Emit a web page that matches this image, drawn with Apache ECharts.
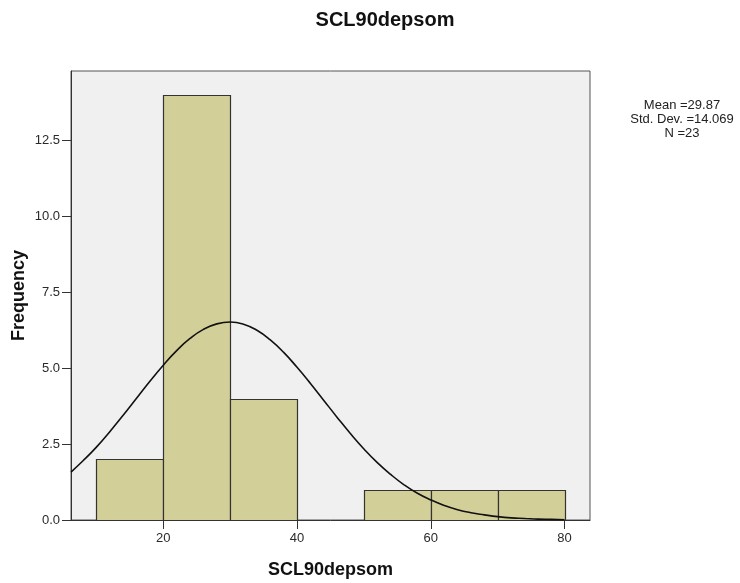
<!DOCTYPE html>
<html>
<head>
<meta charset="utf-8">
<script src="https://cdn.jsdelivr.net/npm/echarts@6/dist/echarts.min.js"></script>
<style>
html,body{margin:0;padding:0;background:#fff;}
#c{width:740px;height:583px;}
</style>
</head>
<body>
<div id="c"></div>
<script>
// ---- data ----
const binStart = [10, 20, 30, 40, 50, 60, 70];
const binEnd   = [20, 30, 40, 50, 60, 70, 80];
const counts   = [2, 14, 4, 0, 1, 1, 1];
const curveX = [6.2, 8, 10, 12, 14, 16, 18, 20, 22, 24, 26, 28, 30, 32, 34, 36, 38, 40, 42, 44, 46, 48, 50, 52, 54, 56, 58, 60, 62, 64, 66, 68, 70, 72, 74, 76, 78, 80];
const curveY = [1.58, 1.95, 2.40, 2.91, 3.45, 4.01, 4.57, 5.10, 5.58, 5.98, 6.28, 6.46, 6.52, 6.45, 6.25, 5.93, 5.52, 5.03, 4.50, 3.94, 3.38, 2.84, 2.34, 1.89, 1.50, 1.16, 0.88, 0.66, 0.48, 0.34, 0.24, 0.17, 0.11, 0.07, 0.05, 0.03, 0.02, 0.01];
const xTicks = [20, 40, 60, 80];
const yTicks = [0, 2.5, 5, 7.5, 10, 12.5];
const titleText = 'SCL90depsom';
const xName = 'SCL90depsom';
const yName = 'Frequency';
const statsLines = ['Mean =29.87', 'Std. Dev. =14.069', 'N =23'];

const barData = binStart.map((s, i) => [s, binEnd[i], counts[i]]);
const lineData = curveX.map((x, i) => [x, curveY[i]]);

const FONT = 'Arial, "Liberation Sans", sans-serif';
const chart = echarts.init(document.getElementById('c'), null, {renderer: 'canvas'});
chart.setOption({
  animation: false,
  backgroundColor: '#ffffff',
  grid: {left: 71, right: 150, top: 71, bottom: 63, show: true, backgroundColor: '#f0f0f0', borderColor: '#555555', borderWidth: 1},
  xAxis: {
    type: 'value', min: 6.2, max: 83.8,
    axisLine: {show: true, lineStyle: {color: '#333333', width: 1}},
    axisTick: {show: true, inside: false, length: 9, customValues: xTicks, lineStyle: {color: '#333333'}},
    axisLabel: {customValues: xTicks, margin: 12, color: '#2a2a2a', fontFamily: FONT, fontSize: 13},
    splitLine: {show: false}
  },
  yAxis: {
    type: 'value', min: 0, max: 14.79,
    axisLine: {show: true, lineStyle: {color: '#333333', width: 1}},
    axisTick: {show: true, inside: false, length: 9, customValues: yTicks, lineStyle: {color: '#333333'}},
    axisLabel: {customValues: yTicks, margin: 11, color: '#2a2a2a', fontFamily: FONT, fontSize: 13,
      formatter: v => Number(v).toFixed(1)},
    splitLine: {show: false}
  },
  series: [
    {
      type: 'custom',
      data: barData,
      encode: {x: [0, 1], y: 2},
      renderItem: function (params, api) {
        const x0 = api.value(0), x1 = api.value(1), y = api.value(2);
        if (!y) return null;
        const p0 = api.coord([x0, 0]);
        const p1 = api.coord([x1, y]);
        return {
          type: 'rect',
          shape: {x: Math.round(p0[0]) + 0.5, y: Math.round(p1[1]) + 0.5, width: Math.round(p1[0]) - Math.round(p0[0]), height: Math.round(p0[1]) - Math.round(p1[1])},
          style: {fill: '#d3cf98', stroke: '#333333', lineWidth: 1.2}
        };
      },
      z: 2
    },
    {
      type: 'line',
      data: lineData,
      smooth: true,
      showSymbol: false,
      symbol: 'none',
      lineStyle: {color: '#111111', width: 1.6},
      z: 3
    }
  ],
  graphic: [
    {type: 'text', x: 385, y: 20, style: {text: titleText, textAlign: 'center', textVerticalAlign: 'middle', font: 'bold 20px ' + FONT, fill: '#111111'}},
    {type: 'text', x: 330.5, y: 570, style: {text: xName, textAlign: 'center', textVerticalAlign: 'middle', font: 'bold 18px ' + FONT, fill: '#111111'}},
    {type: 'text', x: 19, y: 295.5, rotation: Math.PI / 2, style: {text: yName, textAlign: 'center', textVerticalAlign: 'middle', font: 'bold 18px ' + FONT, fill: '#111111'}},
    {type: 'text', x: 682, y: 105, style: {text: statsLines[0], textAlign: 'center', textVerticalAlign: 'middle', font: '13px ' + FONT, fill: '#222222'}},
    {type: 'text', x: 682, y: 119, style: {text: statsLines[1], textAlign: 'center', textVerticalAlign: 'middle', font: '13px ' + FONT, fill: '#222222'}},
    {type: 'text', x: 682, y: 133, style: {text: statsLines[2], textAlign: 'center', textVerticalAlign: 'middle', font: '13px ' + FONT, fill: '#222222'}}
  ]
});
</script>
</body>
</html>
